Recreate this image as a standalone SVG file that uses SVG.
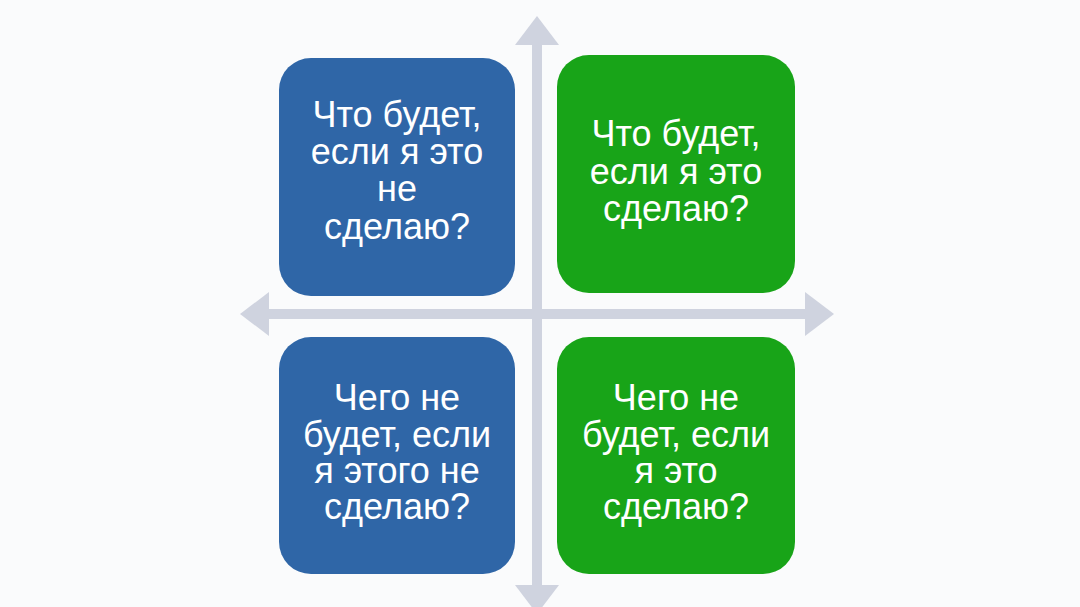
<svg xmlns="http://www.w3.org/2000/svg" width="1080" height="607" viewBox="0 0 1080 607">
<style>
.blue{fill:#2f66a7}
.green{fill:#18a418}
.axis{fill:#cfd3df}
.t{font-family:"Liberation Sans",Arial,sans-serif;font-size:36px;fill:#ffffff;text-anchor:middle}
</style>
<rect x="0" y="0" width="1080" height="607" fill="#fafbfc"/>
<g id="connectors">
<rect class="axis" x="532" y="40" width="10" height="550"/>
<polygon class="axis" points="537,16 559,45 515,45"/>
<polygon class="axis" points="537,614 559,585 515,585"/>
<rect class="axis" x="262" y="309" width="550" height="10"/>
<polygon class="axis" points="240,314 269,292 269,336"/>
<polygon class="axis" points="834,314 805,292 805,336"/>
</g>
<g id="node-tl">
<rect class="blue" x="279" y="58" width="236" height="238" rx="32"/>
<text class="t" x="397" y="127">Что будет,</text>
<text class="t" x="397" y="164">если я это</text>
<text class="t" x="397" y="201">не</text>
<text class="t" x="397" y="239">сделаю?</text>
</g>
<g id="node-tr">
<rect class="green" x="557" y="55" width="238" height="238" rx="32"/>
<text class="t" x="676" y="146">Что будет,</text>
<text class="t" x="676" y="184">если я это</text>
<text class="t" x="676" y="221">сделаю?</text>
</g>
<g id="node-bl">
<rect class="blue" x="279" y="337" width="236" height="237" rx="32"/>
<text class="t" x="397" y="410">Чего не</text>
<text class="t" x="397" y="447">будет, если</text>
<text class="t" x="397" y="483">я этого не</text>
<text class="t" x="397" y="519">сделаю?</text>
</g>
<g id="node-br">
<rect class="green" x="557" y="337" width="238" height="237" rx="32"/>
<text class="t" x="676" y="410">Чего не</text>
<text class="t" x="676" y="447">будет, если</text>
<text class="t" x="676" y="483">я это</text>
<text class="t" x="676" y="519">сделаю?</text>
</g>
</svg>
